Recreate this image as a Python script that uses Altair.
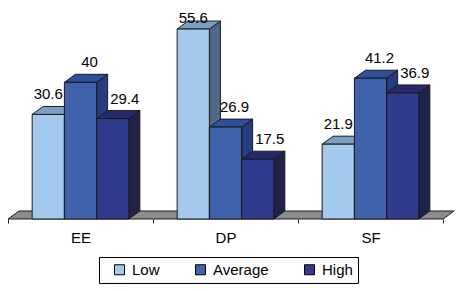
import altair as alt
import pandas as pd

# ---- data ----
CATEGORIES = ["EE", "DP", "SF"]
SERIES = ["Low", "Average", "High"]
LOW = [30.6, 55.6, 21.9]
AVERAGE = [40.0, 26.9, 41.2]
HIGH = [29.4, 17.5, 36.9]
VALUES = {"Low": LOW, "Average": AVERAGE, "High": HIGH}

# ---- styles ----
FONT = "Liberation Sans, Arial, sans-serif"
FRONT = {"Low": "#A3C9EC", "Average": "#4062AA", "High": "#323A8C"}
TOP = {"Low": "#7C9DC4", "Average": "#2F4E9C", "High": "#262B6E"}
SIDE = {"Low": "#4F6987", "Average": "#253D7E", "High": "#20224A"}
FLOOR = "#8C8C8C"
EDGE = "#1A1A1A"
LABEL_DX = {"Low": 0, "Average": 9, "High": 12}
LABEL_DY = -15
LABEL_CAP = 53.0   # labels of taller bars are kept inside the chart, as the original does

# layout in data units of the quantitative scales
BAND = 3          # width of one category band
BAR_W = 2.0 / 3   # width of one bar
GAP = 0.5         # space before the first bar of a band
DX = 0.228        # 3-D depth, horizontal
DY = 2.34         # 3-D depth, vertical
YMAX = 60
XEND = len(CATEGORIES) * BAND
WIDTH = 435
HEIGHT = 205

front_rows, side_rows, top_rows = [], [], []
for gi, cat in enumerate(CATEGORIES):
    for si, s in enumerate(SERIES):
        v = VALUES[s][gi]
        x0 = gi * BAND + GAP + si * BAR_W
        x1 = x0 + BAR_W
        bid = f"{cat}-{s}"
        front_rows.append(dict(category=cat, series=s, value=v, x0=x0, x1=x1,
                               xc=(x0 + x1) / 2, base=0))
        side_rows += [
            dict(bar=bid, x=x1, y=v, y2=0, fill=SIDE[s]),
            dict(bar=bid, x=x1 + DX, y=v + DY, y2=DY, fill=SIDE[s]),
        ]
        top_rows += [
            dict(bar=bid, x=x0, y=v, y2=v, fill=TOP[s]),
            dict(bar=bid, x=x0 + DX, y=v + DY, y2=v, fill=TOP[s]),
            dict(bar=bid, x=x1, y=v + DY, y2=v, fill=TOP[s]),
            dict(bar=bid, x=x1 + DX, y=v + DY, y2=v + DY, fill=TOP[s]),
        ]

front_df = pd.DataFrame(front_rows)
side_df = pd.DataFrame(side_rows)
top_df = pd.DataFrame(top_rows)
floor_df = pd.DataFrame([
    dict(bar="floor", x=0, y=0, y2=0),
    dict(bar="floor", x=DX, y=DY, y2=0),
    dict(bar="floor", x=XEND, y=DY, y2=0),
    dict(bar="floor", x=XEND + DX, y=DY, y2=DY),
])

xscale = alt.Scale(domain=[0, XEND], nice=False, zero=False)
yscale = alt.Scale(domain=[0, YMAX], nice=False)

# ticks on the band boundaries, labels shifted to the band centres
tick_values = [i * BAND for i in range(len(CATEGORIES) + 1)]
label_expr = "".join(
    f"datum.value == {i * BAND} ? '{c}' : " for i, c in enumerate(CATEGORIES)
) + "''"
x_axis = alt.Axis(
    values=tick_values,
    labelExpr=label_expr,
    labelOffset=WIDTH / len(CATEGORIES) / 2,
    labelAlign="center",
    tickSize=4, tickColor="#222222", tickWidth=1,
    domain=False, grid=False, title=None,
    labelFont=FONT, labelFontSize=15, labelColor="black", labelPadding=7,
    labelFlush=False, labelOverlap=False,
)

floor = alt.Chart(floor_df).mark_area(
    fill=FLOOR, stroke=EDGE, strokeWidth=1, interpolate="linear"
).encode(
    x=alt.X("x:Q", scale=xscale, axis=x_axis),
    y=alt.Y("y:Q", scale=yscale, axis=None, stack=None),
    y2="y2:Q",
    detail="bar:N",
)

def faces(df):
    return alt.Chart(df).mark_area(
        stroke=EDGE, strokeWidth=1, interpolate="linear"
    ).encode(
        x=alt.X("x:Q", scale=xscale),
        y=alt.Y("y:Q", scale=yscale, axis=None, stack=None),
        y2="y2:Q",
        detail="bar:N",
        fill=alt.Fill("fill:N", scale=None),
    )

sides = faces(side_df)
tops = faces(top_df)

fronts = alt.Chart(front_df).mark_bar(stroke=EDGE, strokeWidth=1).encode(
    x=alt.X("x0:Q", scale=xscale),
    x2="x1:Q",
    y=alt.Y("value:Q", scale=yscale, axis=None, stack=None),
    y2="base:Q",
    color=alt.Color(
        "series:N",
        scale=alt.Scale(domain=SERIES, range=[FRONT[s] for s in SERIES]),
        sort=SERIES,
        legend=alt.Legend(
            title=None, orient="none", legendX=91, legendY=243,
            direction="horizontal", strokeColor="black", fillColor="white",
            padding=5, symbolType="square", symbolSize=100,
            symbolStrokeColor="black", symbolStrokeWidth=1,
            labelFont=FONT, labelFontSize=15, labelColor="black",
            columnPadding=25, symbolOffset=8, labelOffset=5,
        ),
    ),
)

labels = []
for s in SERIES:
    labels.append(
        alt.Chart(front_df)
        .transform_filter(alt.datum.series == s)
        .transform_calculate(label_y=f"min(datum.value, {LABEL_CAP})")
        .mark_text(
            dx=LABEL_DX[s], dy=LABEL_DY, baseline="alphabetic", align="center",
            font=FONT, fontSize=15, color="black",
        ).encode(
            x=alt.X("xc:Q", scale=xscale),
            y=alt.Y("label_y:Q", scale=yscale, axis=None, stack=None),
            text=alt.Text("value:Q", format=".1~f"),
        )
    )

chart = alt.layer(floor, sides, tops, fronts, *labels).properties(
    width=WIDTH,
    height=HEIGHT,
    autosize=alt.AutoSizeParams(type="none"),
    padding={"left": 0, "top": 6, "right": 16, "bottom": 70},
    background="white",
).configure_view(stroke=None)

chart.save("out.html", embed_options={"renderer": "svg", "actions": False})
